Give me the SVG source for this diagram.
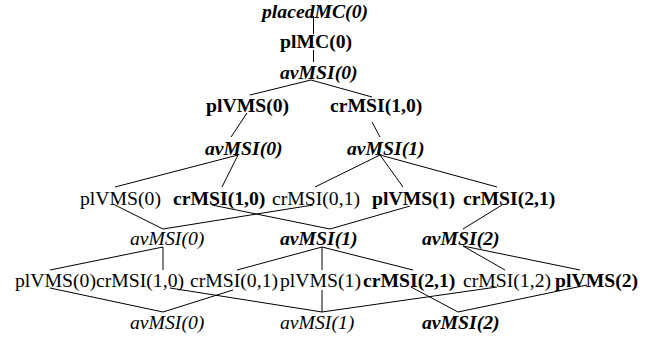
<svg xmlns="http://www.w3.org/2000/svg" width="655" height="339" viewBox="0 0 655 339">
<style>
text{font-family:"Liberation Serif","Times New Roman",serif;font-size:19.7px;fill:#000}
.b{font-weight:bold}
.i{font-style:italic}
.bi{font-weight:bold;font-style:italic}
#connectors line{stroke:#000;stroke-width:1;fill:none}
</style>
<rect width="655" height="339" fill="#fff"/>
<g id="connectors">
<line x1="313.5" y1="16" x2="313.5" y2="34"/>
<line x1="313.5" y1="50" x2="313.5" y2="62"/>
<line x1="311" y1="80" x2="250" y2="95"/>
<line x1="311" y1="80" x2="372" y2="97"/>
<line x1="247" y1="113" x2="231" y2="137"/>
<line x1="372" y1="122" x2="380" y2="137"/>
<line x1="238" y1="155" x2="115" y2="187"/>
<line x1="238" y1="155" x2="222" y2="187"/>
<line x1="380" y1="155" x2="315" y2="187"/>
<line x1="380" y1="155" x2="403" y2="187"/>
<line x1="380" y1="155" x2="497" y2="187"/>
<line x1="113" y1="204" x2="163" y2="229"/>
<line x1="313" y1="205" x2="163" y2="229"/>
<line x1="212" y1="205" x2="330" y2="229"/>
<line x1="410" y1="206" x2="330" y2="229"/>
<line x1="502" y1="205" x2="463" y2="229"/>
<line x1="163" y1="247" x2="50" y2="270"/>
<line x1="163" y1="247" x2="163" y2="270"/>
<line x1="322" y1="247" x2="237" y2="270"/>
<line x1="322" y1="247" x2="322" y2="270"/>
<line x1="322" y1="247" x2="413" y2="270"/>
<line x1="463" y1="246" x2="505" y2="270"/>
<line x1="463" y1="246" x2="580" y2="270"/>
<line x1="50" y1="288" x2="163" y2="312"/>
<line x1="233" y1="290" x2="163" y2="312"/>
<line x1="170" y1="288" x2="322" y2="312"/>
<line x1="322" y1="290" x2="322" y2="312"/>
<line x1="497" y1="287" x2="322" y2="312"/>
<line x1="411" y1="287" x2="458" y2="312"/>
<line x1="587" y1="285" x2="458" y2="312"/>
</g>
<g id="placedMC0"><text class="bi" x="262" y="18">placedMC(0)</text></g>
<g id="plMC0"><text class="b" x="280" y="48">plMC(0)</text></g>
<g id="avMSI0-r3"><text class="bi" x="280" y="79">avMSI(0)</text></g>
<g id="plVMS0-r4"><text class="b" x="206" y="112">plVMS(0)</text></g>
<g id="crMSI10-r4"><text class="b" x="330" y="112">crMSI(1,0)</text></g>
<g id="avMSI0-r5"><text class="bi" x="205" y="155">avMSI(0)</text></g>
<g id="avMSI1-r5"><text class="bi" x="347" y="155">avMSI(1)</text></g>
<g id="plVMS0-r6"><text x="80" y="205">plVMS(0)</text></g>
<g id="crMSI10-r6"><text class="b" x="173" y="205">crMSI(1,0)</text></g>
<g id="crMSI01-r6"><text x="272" y="205">crMSI(0,1)</text></g>
<g id="plVMS1-r6"><text class="b" x="372" y="205">plVMS(1)</text></g>
<g id="crMSI21-r6"><text class="b" x="463" y="205">crMSI(2,1)</text></g>
<g id="avMSI0-r7"><text class="i" x="130" y="245">avMSI(0)</text></g>
<g id="avMSI1-r7"><text class="bi" x="280" y="245">avMSI(1)</text></g>
<g id="avMSI2-r7"><text class="bi" x="422" y="245">avMSI(2)</text></g>
<g id="plVMS0-r8"><text x="15" y="287">plVMS(0)</text></g>
<g id="crMSI10-r8"><text x="96" y="287">crMSI(1,0)</text></g>
<g id="crMSI01-r8"><text x="190" y="287">crMSI(0,1)</text></g>
<g id="plVMS1-r8"><text x="280" y="287">plVMS(1)</text></g>
<g id="crMSI21-r8"><text class="b" x="363" y="287">crMSI(2,1)</text></g>
<g id="crMSI12-r8"><text x="463" y="287">crMSI(1,2)</text></g>
<g id="plVMS2-r8"><text class="b" x="555" y="287">plVMS(2)</text></g>
<g id="avMSI0-r9"><text class="i" x="130" y="329">avMSI(0)</text></g>
<g id="avMSI1-r9"><text class="i" x="280" y="329">avMSI(1)</text></g>
<g id="avMSI2-r9"><text class="bi" x="422" y="329">avMSI(2)</text></g>
</svg>
